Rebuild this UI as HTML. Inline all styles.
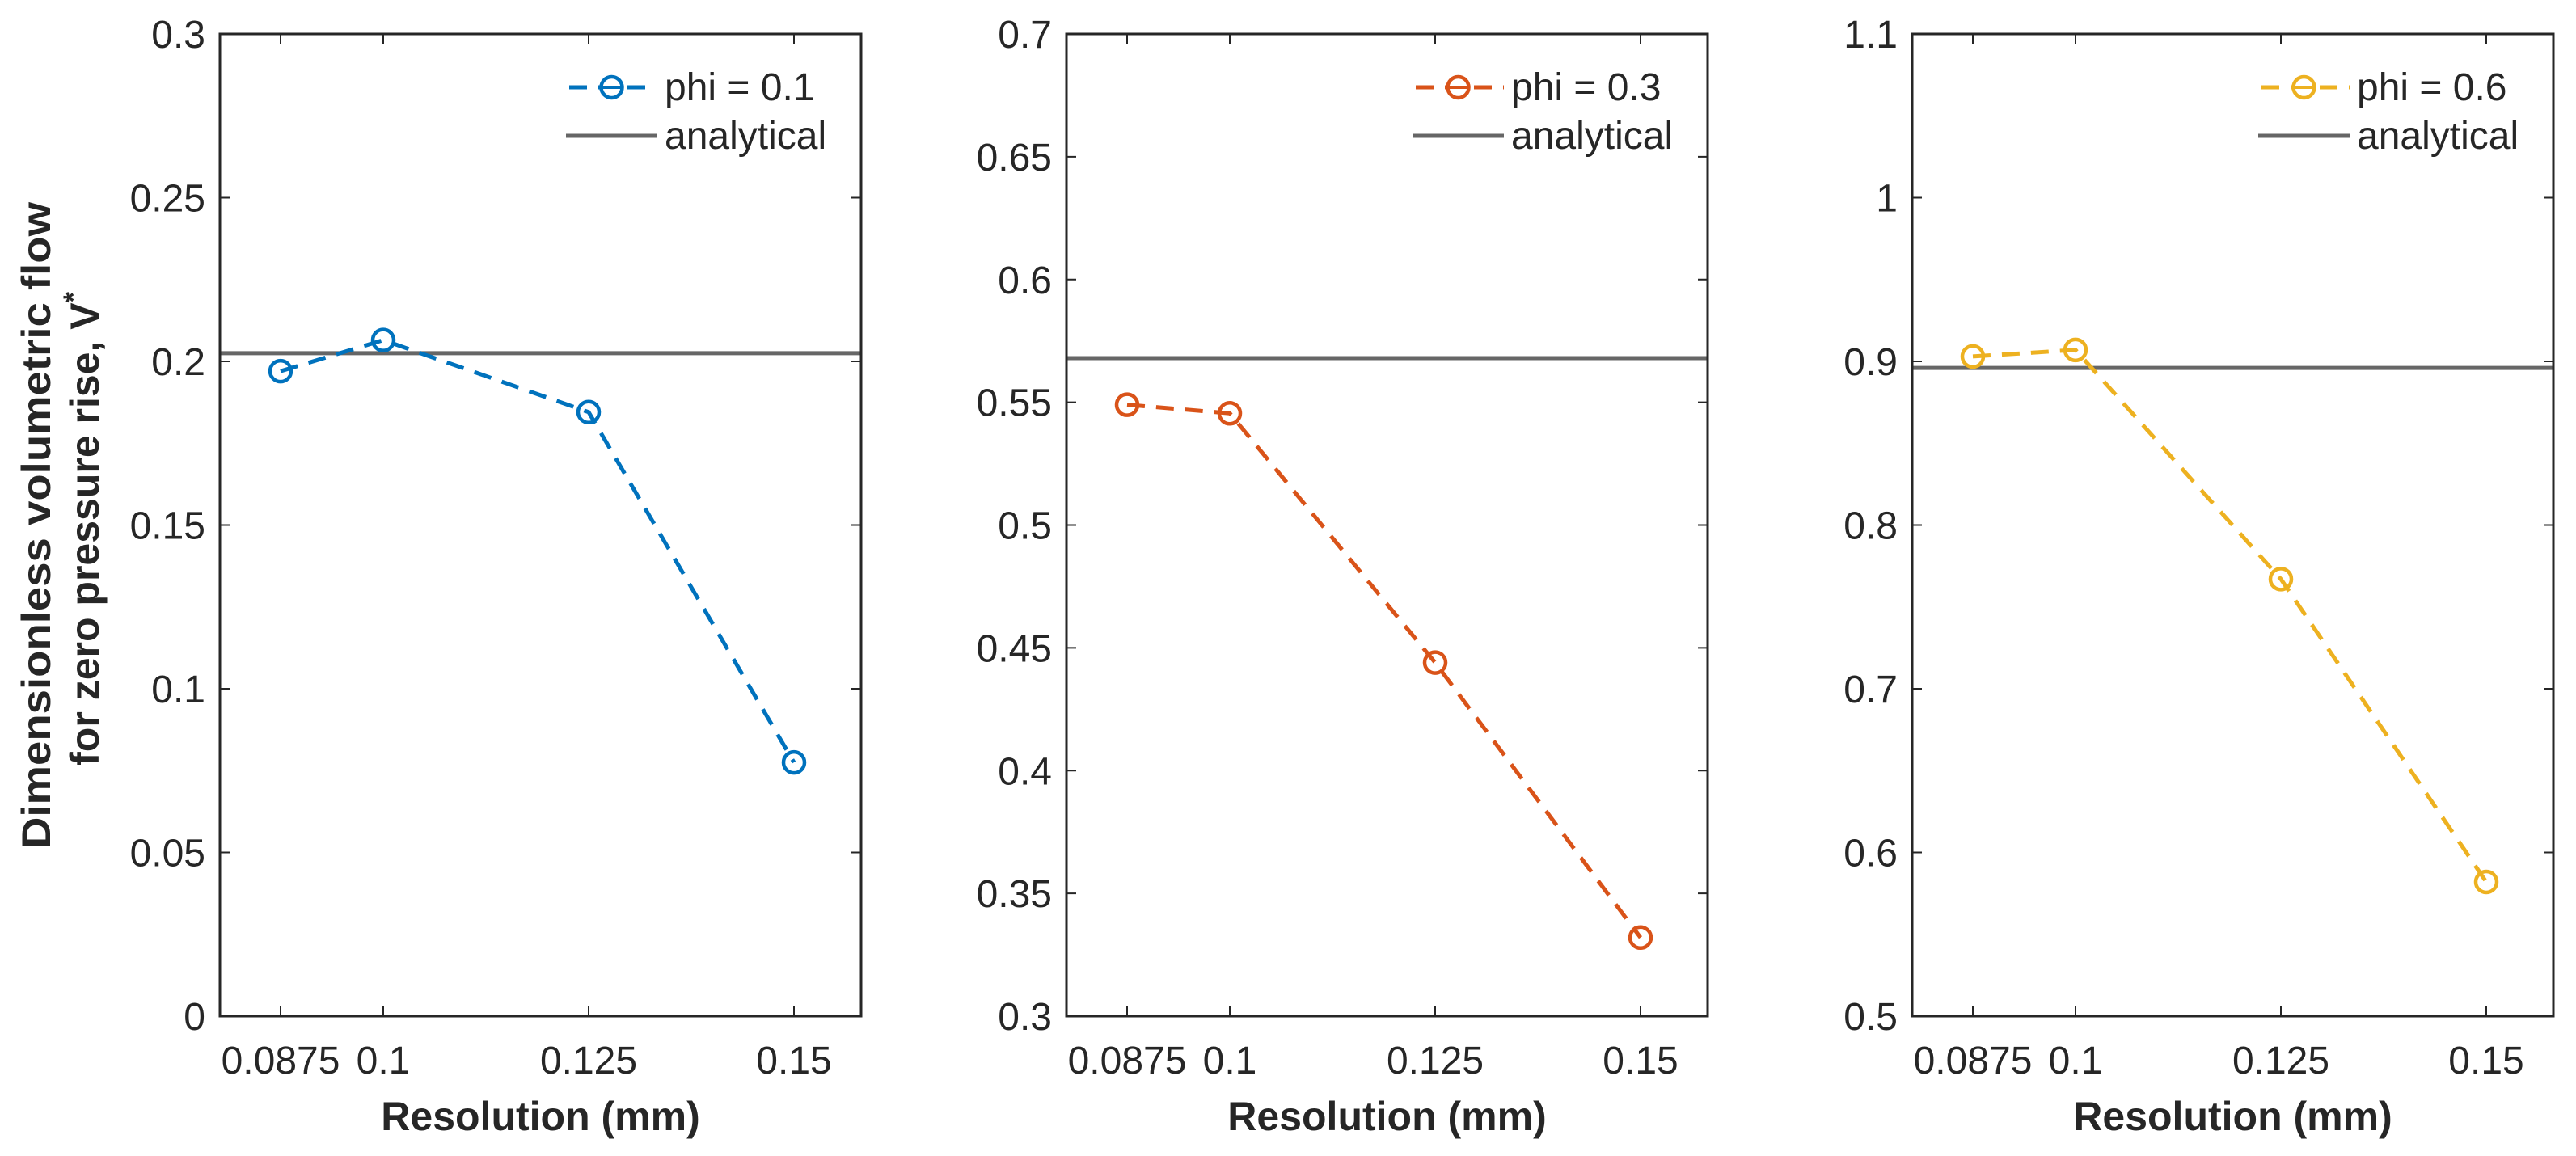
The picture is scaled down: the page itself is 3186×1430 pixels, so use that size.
<!DOCTYPE html>
<html><head><meta charset="utf-8"><style>
html,body{margin:0;padding:0;background:#fff;}
svg{display:block;font-family:"Liberation Sans",Arial,sans-serif;}
</style></head><body>
<svg id="chart" width="3186" height="1430" viewBox="0 0 3186 1430" xmlns="http://www.w3.org/2000/svg">
<rect width="3186" height="1430" fill="#fff"/>
<text transform="translate(62,650) rotate(-90)" text-anchor="middle" font-size="50" font-weight="bold" fill="#262626" textLength="800" lengthAdjust="spacingAndGlyphs">Dimensionless volumetric flow</text>
<text transform="translate(122,654) rotate(-90)" text-anchor="middle" font-size="50" font-weight="bold" fill="#262626">for zero pressure rise, V<tspan font-size="34" dy="-20">*</tspan></text>
</svg>
<script>
const categories = [0.0875, 0.1, 0.125, 0.15];
const xTickLabels = ["0.0875", "0.1", "0.125", "0.15"];
const seriesPhi1 = [0.197, 0.2065, 0.1845, 0.0775];
const seriesPhi3 = [0.549, 0.5455, 0.444, 0.332];
const seriesPhi6 = [0.903, 0.907, 0.767, 0.582];
const analytical = [0.2025, 0.568, 0.896];
const legendLabels = ["phi = 0.1", "phi = 0.3", "phi = 0.6"];
const yTicks1 = [0, 0.05, 0.1, 0.15, 0.2, 0.25, 0.3];
const yTickLabels1 = ["0", "0.05", "0.1", "0.15", "0.2", "0.25", "0.3"];
const yTicks2 = [0.3, 0.35, 0.4, 0.45, 0.5, 0.55, 0.6, 0.65, 0.7];
const yTickLabels2 = ["0.3", "0.35", "0.4", "0.45", "0.5", "0.55", "0.6", "0.65", "0.7"];
const yTicks3 = [0.5, 0.6, 0.7, 0.8, 0.9, 1, 1.1];
const yTickLabels3 = ["0.5", "0.6", "0.7", "0.8", "0.9", "1", "1.1"];

const NS = "http://www.w3.org/2000/svg";
const svg = document.getElementById('chart');
function mk(tag, attrs, parent) {
  const e = document.createElementNS(NS, tag);
  for (const k in attrs) e.setAttribute(k, attrs[k]);
  (parent || svg).appendChild(e);
  return e;
}
const TOP = 42, BOT = 1257;
const panels = [
  {x0: 347, ymin: 0, ymax: 0.3, ticks: yTicks1, labels: yTickLabels1, data: seriesPhi1, color: "#0072BD", an: analytical[0], leg: legendLabels[0]},
  {x0: 1394, ymin: 0.3, ymax: 0.7, ticks: yTicks2, labels: yTickLabels2, data: seriesPhi3, color: "#D95319", an: analytical[1], leg: legendLabels[1]},
  {x0: 2440, ymin: 0.5, ymax: 1.1, ticks: yTicks3, labels: yTickLabels3, data: seriesPhi6, color: "#EDB120", an: analytical[2], leg: legendLabels[2]}
];
panels.forEach((p, pi) => {
  const L = p.x0 - 75, R = p.x0 + 718;
  const xs = v => p.x0 + (v - 0.0875) * 10160;
  const ys = v => BOT - (v - p.ymin) / (p.ymax - p.ymin) * (BOT - TOP);
  const g = mk('g', {});
  
  
  p.ticks.forEach((t, i) => {
    const y = ys(t);
    const tl = mk('line', {x1: L, x2: L + 12, y1: y, y2: y, stroke: "#262626", 'stroke-width': 2}, g);
    
    
    mk('line', {x1: R, x2: R - 12, y1: y, y2: y, stroke: "#262626", 'stroke-width': 2}, g);
    const tx = mk('text', {x: L - 18, y: y + 17, 'text-anchor': 'end', 'font-size': 48, fill: '#262626'}, g);
    
    
    tx.textContent = p.labels[i];
  });
  categories.forEach((c, i) => {
    const x = xs(c);
    mk('line', {x1: x, x2: x, y1: BOT, y2: BOT - 12, stroke: "#262626", 'stroke-width': 2}, g);
    mk('line', {x1: x, x2: x, y1: TOP, y2: TOP + 12, stroke: "#262626", 'stroke-width': 2}, g);
    const tx = mk('text', {x: x, y: 1328, 'text-anchor': 'middle', 'font-size': 48, fill: '#262626'}, g);
    
    
    tx.textContent = xTickLabels[i];
  });
  const al = mk('line', {x1: L, x2: R, y1: ys(p.an), y2: ys(p.an), stroke: "#666666", 'stroke-width': 5}, g);
  
  
  const pts = categories.map((c, i) => xs(c) + ',' + ys(p.data[i])).join(' ');
  const pl = mk('polyline', {points: pts, fill: 'none', stroke: p.color, 'stroke-width': 5, 'stroke-dasharray': '22 14'}, g);
  
  
  categories.forEach((c, i) => {
    const m = mk('circle', {cx: xs(c), cy: ys(p.data[i]), r: 13, fill: 'none', stroke: p.color, 'stroke-width': 4.5}, g);
    
    
  });
  const box = mk('rect', {x: L, y: TOP, width: R - L, height: BOT - TOP, fill: 'none', stroke: '#262626', 'stroke-width': 3}, g);
  
  
  const lg = mk('g', {}, g);
  
  
  const lx1 = R - 365, lx2 = R - 252, tx0 = R - 243;
  mk('line', {x1: lx1, x2: lx2, y1: 108, y2: 108, stroke: p.color, 'stroke-width': 5, 'stroke-dasharray': '22 14', 'stroke-dashoffset': -4}, lg);
  mk('circle', {cx: (lx1 + lx2) / 2, cy: 108, r: 13, fill: '#fff', stroke: p.color, 'stroke-width': 4.5}, lg);
  mk('line', {x1: (lx1 + lx2) / 2 - 12, x2: (lx1 + lx2) / 2 + 12, y1: 108, y2: 108, stroke: p.color, 'stroke-width': 4}, lg);
  const t1 = mk('text', {x: tx0, y: 124, 'font-size': 48, fill: '#262626'}, lg);
  
  
  t1.textContent = p.leg;
  mk('line', {x1: lx1, x2: lx2, y1: 168, y2: 168, stroke: '#666666', 'stroke-width': 5}, lg);
  const t2 = mk('text', {x: tx0, y: 184, 'font-size': 48, fill: '#262626'}, lg);
  
  
  t2.textContent = 'analytical';
  const xl = mk('text', {x: (L + R) / 2, y: 1398, 'text-anchor': 'middle', 'font-size': 50, 'font-weight': 'bold', fill: '#262626'}, g);
  
  
  xl.textContent = 'Resolution (mm)';
});
</script>
</body></html>
